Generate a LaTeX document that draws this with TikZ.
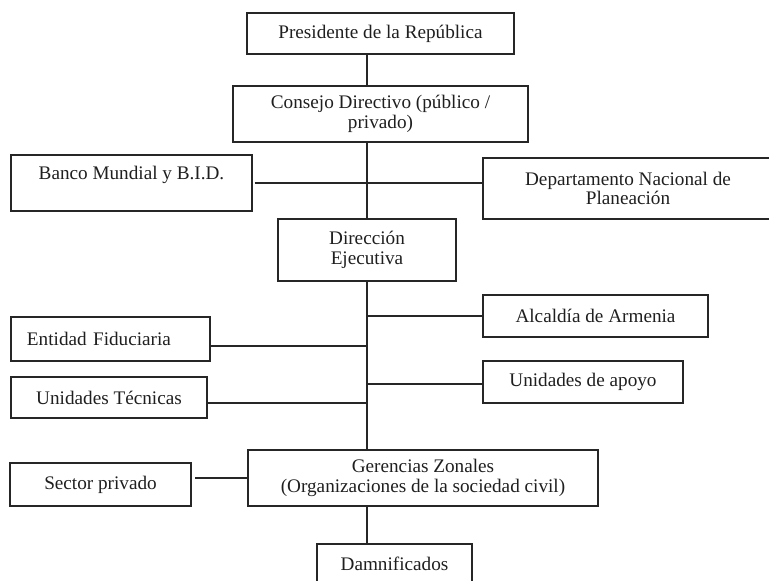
\documentclass[tikz,border=0pt]{standalone}
\usepackage{fontspec}
\setmainfont{Liberation Serif}
\begin{document}
\begin{tikzpicture}[x=1pt, y=-1pt,
    box/.style={draw=black!85, line width=1.4pt, align=center, inner sep=0pt,
        text=black!88, font=\fontsize{19.2}{19.5}\selectfont},
    toptext/.style={text height=13pt, text depth=21pt},
    link/.style={draw=black!85, line width=1.4pt}]
    \useasboundingbox (0,0) rectangle (769,581);
    \clip (0,0) rectangle (769,581);

    % Presidencia y consejo
    \node[box, minimum width=267pt, minimum height=41pt] (pres) at (380.5,33.5) {Presidente de la República};
    \node[box, minimum width=295pt, minimum height=56pt] (consejo) at (380.5,114) {Consejo Directivo (público /\\privado)};

    % Financiadores y planeacion
    \node[box, toptext, minimum width=241pt, minimum height=56pt] (banco) at (131.5,183) {Banco Mundial y B.I.D.};
    \node[box, minimum width=290pt, minimum height=61pt] (dnp) at (628,188.5) {Departamento Nacional de\\Planeación};

    % Direccion
    \node[box, minimum width=178pt, minimum height=62pt] (dir) at (367,250) {Dirección\\Ejecutiva};

    % Apoyos
    \node[box, minimum width=225pt, minimum height=42pt] (alcaldia) at (595.5,316) {Alcaldía de Armenia};
    \node[box, minimum width=199pt, minimum height=44pt, text width=167pt, align=left, inner xsep=16pt] (fiducia) at (110.5,339) {Entidad Fiduciaria};
    \node[box, minimum width=196pt, minimum height=41pt] (tecnicas) at (109,397.5) {Unidades Técnicas};
    \node[box, minimum width=200pt, minimum height=42pt] (apoyo) at (583,382) {Unidades de apoyo};

    % Gerencias
    \node[box, minimum width=181pt, minimum height=43pt] (privado) at (100.5,484.5) {Sector privado};
    \node[box, minimum width=350pt, minimum height=56pt] (gerencias) at (423,478) {Gerencias Zonales\\(Organizaciones de la sociedad civil)};
    \node[box, minimum width=155pt, minimum height=40pt] (damnif) at (394.5,564) {Damnificados};

    % Connections
    \draw[link] (pres.south -| dir) -- (consejo.north -| dir);
    \draw[link] (consejo.south -| dir) -- (dir.north);
    \draw[link, shorten <=2pt] (banco.east) -- (banco.east -| dnp.west);
    \draw[link] (dir.south) -- (dir.south |- gerencias.north);
    \draw[link] (alcaldia.west) -- (alcaldia.west -| dir);
    \coordinate (fiduciaj) at ([yshift=-7pt]fiducia.east);
    \draw[link] (fiduciaj) -- (fiduciaj -| dir);
    \coordinate (tecnicasj) at ([yshift=-5.5pt]tecnicas.east);
    \draw[link] (tecnicasj) -- (tecnicasj -| dir);
    \coordinate (apoyoj) at ([yshift=-2pt]apoyo.west);
    \draw[link] (apoyoj) -- (apoyoj -| dir);
    \draw[link, shorten >=3pt] (gerencias.west) -- (gerencias.west -| privado.east);
    \draw[link] (gerencias.south -| dir) -- (damnif.north -| dir);
\end{tikzpicture}
\end{document}
